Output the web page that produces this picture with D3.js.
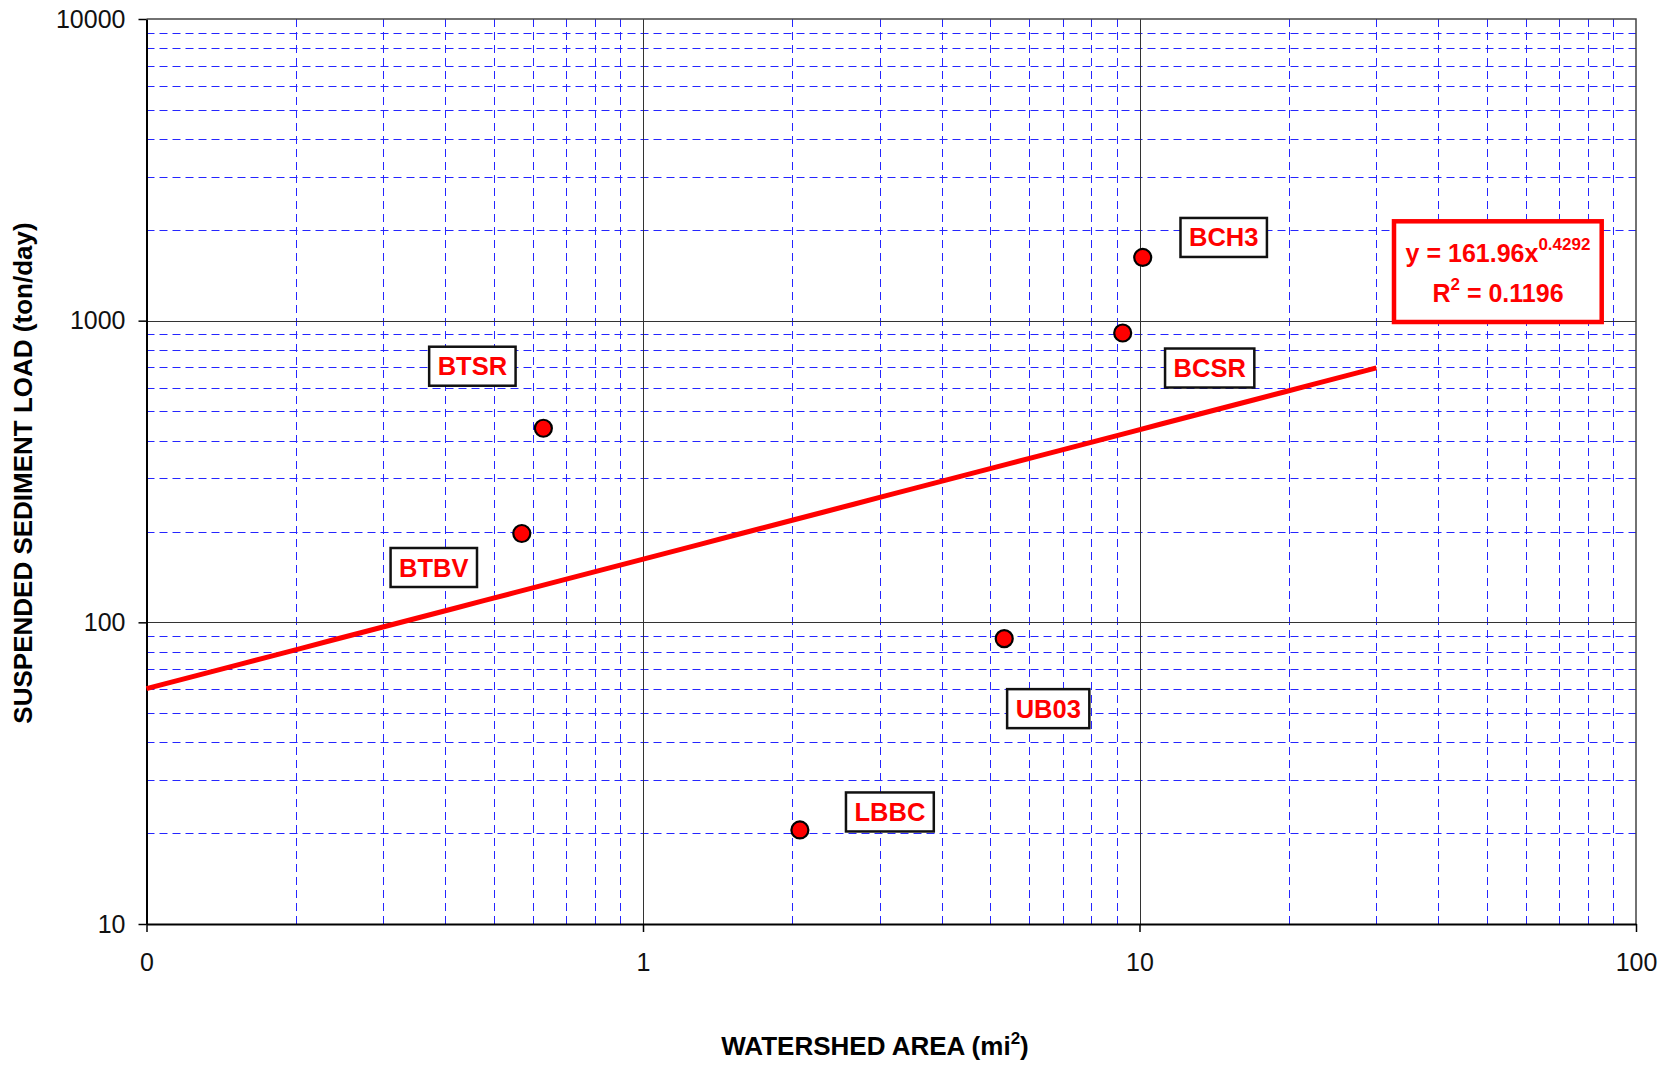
<!DOCTYPE html>
<html>
<head>
<meta charset="utf-8">
<script src="https://cdn.jsdelivr.net/npm/d3@7"></script>
<style>
  body { margin: 0; background: #fff; }
  svg { display: block; font-family: Arial, 'Liberation Sans', sans-serif; }
</style>
</head>
<body>
<svg></svg>
<script>

// station names and values
let sites = ['BCH3', 'BCSR', 'BTSR', 'BTBV', 'UB03', 'LBBC']
let area = [10.15, 9.25, 0.63, 0.57, 5.34, 2.07]
let load = [1620, 910, 440, 197, 88.3, 20.5]

// power trend line  y = a * x^b
let trendA = 161.96
let trendB = 0.4292
let trendX = [0.1, 30]

let xTicks = [0.1, 1, 10, 100]
let xTickLabels = ['0', '1', '10', '100']
let yTicks = [10, 100, 1000, 10000]
let yTickLabels = ['10', '100', '1000', '10000']

// label box offset from each point (pixels)
let labelOffset = {
  BCH3: [81, -20],
  BCSR: [87, 35],
  BTSR: [-71, -62],
  BTBV: [-88, 34],
  UB03: [44, 70],
  LBBC: [90, -18]
}

let width = 1673, height = 1065
let margin = { top: 19, right: 37, bottom: 141, left: 146.5 }

let svg = d3.select('svg').attr('width', width).attr('height', height)

let x = d3.scaleLog().domain([0.1, 100]).range([margin.left, width - margin.right])
let y = d3.scaleLog().domain([10, 10000]).range([height - margin.bottom, margin.top])

let x0 = x.range()[0], x1 = x.range()[1]
let y0 = y.range()[0], y1 = y.range()[1]

// minor grid, blue dashed
let minorX = [], minorY = []
for (let d = 0.1; d < 100; d *= 10) {
  for (let k = 2; k <= 9; k++) minorX.push(d * k)
}
for (let d = 10; d < 10000; d *= 10) {
  for (let k = 2; k <= 9; k++) minorY.push(d * k)
}

let grid = svg.append('g').attr('class', 'grid')

grid.selectAll('line.mx')
  .data(minorX)
  .enter().append('line')
  .attr('class', 'mx')
  .attr('x1', d => Math.round(x(d)) + 0.5)
  .attr('x2', d => Math.round(x(d)) + 0.5)
  .attr('y1', y1)
  .attr('y2', y0)
  .attr('stroke', '#2626ff')
  .attr('stroke-width', 1)
  .attr('stroke-dasharray', '8,5')

grid.selectAll('line.my')
  .data(minorY)
  .enter().append('line')
  .attr('class', 'my')
  .attr('y1', d => Math.round(y(d)) + 0.5)
  .attr('y2', d => Math.round(y(d)) + 0.5)
  .attr('x1', x0)
  .attr('x2', x1)
  .attr('stroke', '#2626ff')
  .attr('stroke-width', 1)
  .attr('stroke-dasharray', '8,5')

// major grid, thin solid
grid.selectAll('line.Mx')
  .data([1, 10])
  .enter().append('line')
  .attr('x1', d => Math.round(x(d)) + 0.5)
  .attr('x2', d => Math.round(x(d)) + 0.5)
  .attr('y1', y1)
  .attr('y2', y0)
  .attr('stroke', '#333')
  .attr('stroke-width', 1)

grid.selectAll('line.My')
  .data([100, 1000])
  .enter().append('line')
  .attr('y1', d => Math.round(y(d)) + 0.5)
  .attr('y2', d => Math.round(y(d)) + 0.5)
  .attr('x1', x0)
  .attr('x2', x1)
  .attr('stroke', '#333')
  .attr('stroke-width', 1)

// frame top + right
svg.append('path')
  .attr('d', `M${x0},${y1}H${x1}V${y0}`)
  .attr('fill', 'none')
  .attr('stroke', '#444')
  .attr('stroke-width', 1.5)

// axes
let xAxis = d3.axisBottom(x)
  .tickValues(xTicks)
  .tickFormat((d, i) => xTickLabels[i])
  .tickSize(8)
  .tickPadding(21)
  .tickSizeOuter(0)

let yAxis = d3.axisLeft(y)
  .tickValues(yTicks)
  .tickFormat((d, i) => yTickLabels[i])
  .tickSize(8)
  .tickPadding(13)
  .tickSizeOuter(0)

let gx = svg.append('g')
  .attr('transform', `translate(0,${y0})`)
  .call(xAxis)

let gy = svg.append('g')
  .attr('transform', `translate(${x0},0)`)
  .call(yAxis)

;[gx, gy].forEach(g => {
  g.select('.domain').attr('stroke', '#000').attr('stroke-width', 2)
  g.selectAll('.tick line').attr('stroke', '#000').attr('stroke-width', 1.5)
  g.selectAll('.tick text')
    .attr('font-size', 25)
    .attr('font-family', 'Arial, Liberation Sans, sans-serif')
    .attr('fill', '#111')
})

// axis titles
let xTitle = svg.append('text')
  .attr('x', 875)
  .attr('y', 1055)
  .attr('text-anchor', 'middle')
  .attr('font-size', 26)
  .attr('font-weight', 'bold')
  .attr('fill', '#000')

xTitle.append('tspan').text('WATERSHED AREA (mi')
xTitle.append('tspan').attr('font-size', 17).attr('dy', -11).text('2')
xTitle.append('tspan').attr('dy', 11).text(')')

svg.append('text')
  .attr('transform', 'translate(32,473) rotate(-90)')
  .attr('text-anchor', 'middle')
  .attr('font-size', 26)
  .attr('font-weight', 'bold')
  .attr('fill', '#000')
  .text('SUSPENDED SEDIMENT LOAD (ton/day)')

// trend line, sampled along the log axis
let samples = d3.range(0, 41).map(i => {
  let v = Math.pow(10, Math.log10(trendX[0]) + i / 40 * (Math.log10(trendX[1]) - Math.log10(trendX[0])))
  return [v, trendA * Math.pow(v, trendB)]
})

svg.append('path')
  .datum(samples)
  .attr('d', d3.line().x(d => x(d[0])).y(d => y(d[1])))
  .attr('fill', 'none')
  .attr('stroke', '#ff0000')
  .attr('stroke-width', 5)

// points
let points = sites.map((s, i) => ({ name: s, x: area[i], y: load[i] }))

svg.append('g')
  .selectAll('circle')
  .data(points)
  .enter().append('circle')
  .attr('cx', d => x(d.x))
  .attr('cy', d => y(d.y))
  .attr('r', 8.5)
  .attr('fill', '#ff0000')
  .attr('stroke', '#000')
  .attr('stroke-width', 2.2)

// point labels in boxes
let labels = svg.append('g')
  .selectAll('g')
  .data(points)
  .enter().append('g')
  .attr('transform', d => {
    let o = labelOffset[d.name]
    return `translate(${x(d.x) + o[0]},${y(d.y) + o[1]})`
  })

labels.append('rect')
  .attr('fill', '#fff')
  .attr('stroke', '#111')
  .attr('stroke-width', 2.5)

labels.append('text')
  .attr('text-anchor', 'middle')
  .attr('y', 9)
  .attr('font-size', 25.5)
  .attr('font-weight', 'bold')
  .attr('fill', '#ff0000')
  .text(d => d.name)

labels.each(function () {
  let g = d3.select(this)
  let w = g.select('text').node().getComputedTextLength() + 17
  g.select('rect')
    .attr('x', -w / 2)
    .attr('y', -19.5)
    .attr('width', w)
    .attr('height', 39)
})

// equation box
let eq = svg.append('g')

eq.append('rect')
  .attr('x', 1394)
  .attr('y', 221.3)
  .attr('width', 207.7)
  .attr('height', 100.7)
  .attr('fill', '#fff')
  .attr('stroke', '#ff0000')
  .attr('stroke-width', 4.5)

let eq1 = eq.append('text')
  .attr('x', 1498)
  .attr('y', 262)
  .attr('text-anchor', 'middle')
  .attr('font-size', 25)
  .attr('font-weight', 'bold')
  .attr('fill', '#ff0000')

eq1.append('tspan').text('y = ' + trendA + 'x')
eq1.append('tspan').attr('font-size', 17).attr('dy', -12).text(String(trendB))

let eq2 = eq.append('text')
  .attr('x', 1498)
  .attr('y', 302)
  .attr('text-anchor', 'middle')
  .attr('font-size', 25)
  .attr('font-weight', 'bold')
  .attr('fill', '#ff0000')

eq2.append('tspan').text('R')
eq2.append('tspan').attr('font-size', 17).attr('dy', -12).text('2')
eq2.append('tspan').attr('dy', 12).text(' = 0.1196')

</script>
</body>
</html>
